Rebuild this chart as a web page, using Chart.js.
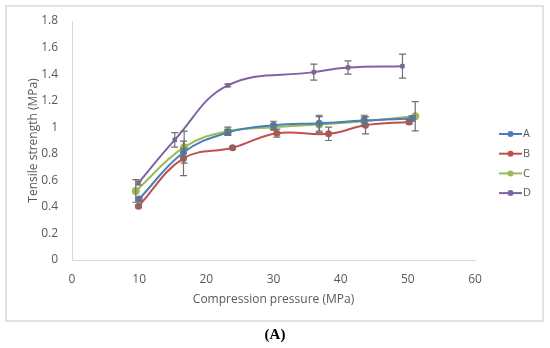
<html>
  <head>
    <script src="https://cdn.jsdelivr.net/npm/chart.js@4.4.0/dist/chart.umd.min.js"></script>
    <style>
      body { margin: 0; background: #fff; }
    </style>
  </head>
  <body>
    <canvas id="myChart" width="550" height="348"></canvas>
    <script>
      // values
      const seriesNames = ["A", "B", "C", "D"];

      const pressA = [10.0, 16.6, 23.2, 30.0, 36.8, 43.5, 50.6];
      const strengthA = [0.46, 0.81, 0.96, 1.015, 1.03, 1.05, 1.065];
      const errA = [0.015, 0.03, 0.02, 0.03, 0.06, 0.04, 0.02];

      const pressB = [9.9, 16.6, 23.9, 30.5, 38.2, 43.7, 50.2];
      const strengthB = [0.405, 0.765, 0.845, 0.955, 0.95, 1.015, 1.04];
      const errB = [0.01, 0.13, 0.012, 0.03, 0.05, 0.065, 0.015];

      const pressC = [9.5, 16.7, 23.2, 30.0, 36.8, 43.5, 51.1];
      const strengthC = [0.52, 0.85, 0.97, 1.0, 1.02, 1.045, 1.083];
      const errC = [0.085, 0.12, 0.03, 0.02, 0.06, 0.03, 0.11];

      const pressD = [9.9, 15.3, 23.2, 36.0, 41.1, 49.2];
      const strengthD = [0.58, 0.905, 1.315, 1.415, 1.45, 1.46];
      const errD = [0.015, 0.055, 0.01, 0.06, 0.05, 0.09];

      const xTicks = [0, 10, 20, 30, 40, 50, 60];
      const yTicks = [0, 0.2, 0.4, 0.6, 0.8, 1, 1.2, 1.4, 1.6, 1.8];

      const colors = ["#4a7ebb", "#c0504d", "#9bbb59", "#8064a2"];
      const textColor = "#595959";
      const fontFam = "'Open Sans', sans-serif";

      function pts(xs, ys) {
        return xs.map((x, i) => ({ x: x, y: ys[i] }));
      }

      const allPress = [pressA, pressB, pressC, pressD];
      const allStrength = [strengthA, strengthB, strengthC, strengthD];
      const allErr = [errA, errB, errC, errD];

      // error bars drawn through the chart's own scales
      const errorBars = {
        id: "errorBars",
        afterDatasetsDraw(chart) {
          const ctx = chart.ctx;
          const xs = chart.scales.x, ys = chart.scales.y;
          ctx.save();
          ctx.strokeStyle = "#6f6f6f";
          ctx.lineWidth = 1.2;
          chart.data.datasets.forEach((ds, di) => {
            const err = allErr[di];
            ds.data.forEach((p, i) => {
              const px = xs.getPixelForValue(p.x);
              const top = ys.getPixelForValue(p.y + err[i]);
              const bot = ys.getPixelForValue(p.y - err[i]);
              ctx.beginPath();
              ctx.moveTo(px, top); ctx.lineTo(px, bot);
              ctx.moveTo(px - 3.5, top); ctx.lineTo(px + 3.5, top);
              ctx.moveTo(px - 3.5, bot); ctx.lineTo(px + 3.5, bot);
              ctx.stroke();
            });
          });
          ctx.restore();
        }
      };

      // frame, legend and panel label
      const extras = {
        id: "extras",
        afterDraw(chart) {
          const ctx = chart.ctx;
          ctx.save();
          ctx.strokeStyle = "#d9d9d9";
          ctx.lineWidth = 1.5;
          ctx.strokeRect(6, 6, 537, 315);

          chart.data.datasets.forEach((ds, i) => {
            const y = 134 + i * 19.7;
            ctx.strokeStyle = ds.borderColor;
            ctx.lineWidth = 2;
            ctx.beginPath();
            ctx.moveTo(499, y); ctx.lineTo(522, y);
            ctx.stroke();
            ctx.fillStyle = ds.borderColor;
            ctx.beginPath();
            ctx.arc(510.5, y, 3, 0, Math.PI * 2);
            ctx.fill();
            ctx.fillStyle = textColor;
            ctx.font = "11px " + fontFam;
            ctx.textBaseline = "middle";
            ctx.fillText(ds.label, 523, y);
          });

          ctx.fillStyle = "#000";
          ctx.font = "bold 15px 'Liberation Serif', serif";
          ctx.textAlign = "center";
          ctx.textBaseline = "middle";
          ctx.fillText("(A)", 275, 335);
          ctx.restore();
        }
      };

      const datasets = seriesNames.map((name, i) => ({
        label: name,
        data: pts(allPress[i], allStrength[i]),
        borderColor: colors[i],
        backgroundColor: colors[i],
        borderWidth: 2,
        pointStyle: i === 3 ? "rect" : "circle",
        pointRadius: i === 3 ? 3.2 : (i === 2 ? 4 : 3.5),
        pointBorderWidth: 0,
        tension: 0.4,
        fill: false
      }));

      new Chart(document.getElementById("myChart"), {
        type: "line",
        data: { datasets: datasets },
        options: {
          responsive: false,
          animation: false,
          layout: { padding: { left: 22, right: 75, top: 21, bottom: 40 } },
          plugins: {
            legend: { display: false },
            tooltip: { enabled: false }
          },
          scales: {
            x: {
              type: "linear",
              min: 0, max: 60,
              afterFit: s => { s.height = 48; },
              afterBuildTicks: s => { s.ticks = xTicks.map(v => ({ value: v })); },
              grid: { display: false },
              border: { color: "#d9d9d9", width: 1 },
              ticks: { color: textColor, font: { family: fontFam, size: 12 }, padding: 4 },
              title: { display: true, text: "Compression pressure (MPa)", color: textColor,
                       font: { family: fontFam, size: 12 }, padding: 1 }
            },
            y: {
              min: 0, max: 1.8,
              afterFit: s => { s.width = 50; },
              afterBuildTicks: s => { s.ticks = yTicks.map(v => ({ value: v })); },
              grid: { display: false },
              border: { color: "#d9d9d9", width: 1 },
              ticks: { color: textColor, font: { family: fontFam, size: 12 }, padding: 6,
                       callback: v => String(+v.toFixed(1)) },
              title: { display: true, text: "Tensile strength (MPa)", color: textColor,
                       font: { family: fontFam, size: 12 }, padding: 4 }
            }
          }
        },
        plugins: [errorBars, extras]
      });
    </script>
  </body>
</html>
